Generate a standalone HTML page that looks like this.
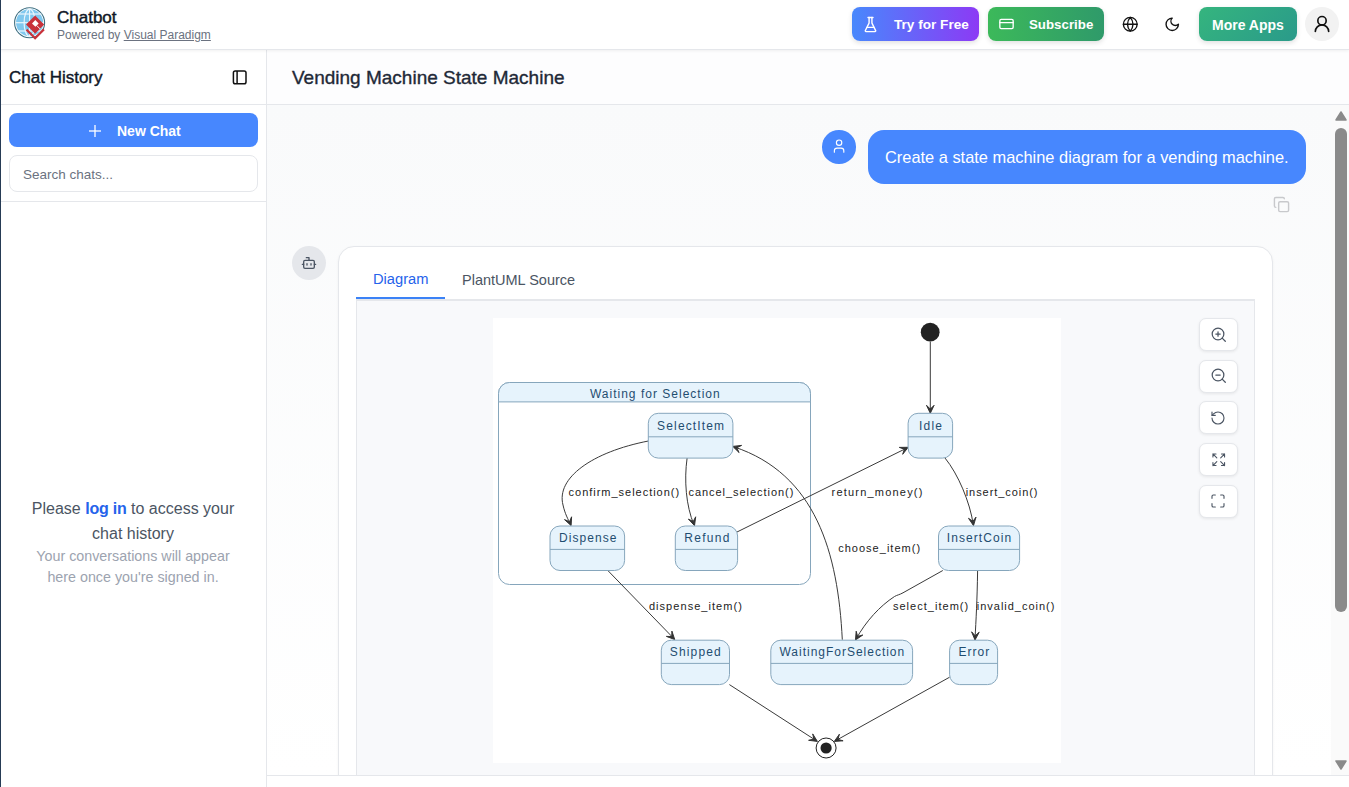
<!DOCTYPE html>
<html><head><meta charset="utf-8">
<style>
*{box-sizing:border-box;margin:0;padding:0}
html,body{width:1349px;height:787px;overflow:hidden;background:#fff;font-family:"Liberation Sans",sans-serif;color:#111827}
.abs{position:absolute}
#leftline{left:0;top:0;width:1px;height:787px;background:#263b55;z-index:10}
#header{left:0;top:0;width:1349px;height:50px;background:#fff;border-bottom:1px solid #e5e7eb;box-shadow:0 1px 3px rgba(0,0,0,.06);z-index:5}
.btn{position:absolute;top:7px;height:34px;border-radius:8px;color:#fff;font-weight:bold;font-size:14px;line-height:34px;box-shadow:0 2px 5px rgba(0,0,0,.12)}
#sidebar{left:0;top:50px;width:267px;height:737px;background:#fff;border-right:1px solid #e5e7eb}
#main{left:267px;top:50px;width:1082px;height:737px;background:#fff}
#titlebar{left:0;top:0;width:1082px;height:55px;background:#fdfdfe;border-bottom:1px solid #e5e7eb}
#content{left:0;top:55px;width:1082px;height:671px;background:linear-gradient(#f9fafb,#ffffff);border-bottom:1px solid #e5e7eb;overflow:hidden}
.zb{position:absolute;left:931.5px;width:39.5px;height:33px;border-radius:7px;background:#fff;border:1px solid #e5e7eb;box-shadow:0 1px 3px rgba(0,0,0,.08);display:flex;align-items:center;justify-content:center}
</style></head>
<body>
<div class="abs" id="header">
  <!-- logo -->
  <svg class="abs" style="left:13px;top:6px" width="34" height="34" viewBox="13 6 34 34">
    <circle cx="29.6" cy="22.7" r="15" fill="#fff" stroke="#3d6e80" stroke-width="1.1"/>
    <circle cx="29.6" cy="22.7" r="13.6" fill="#80c8ee"/>
    <g stroke="#e9f6fd" stroke-width="1.2" fill="none">
      <ellipse cx="29.6" cy="22.7" rx="5.5" ry="13.6"/>
      <line x1="29.6" y1="9.1" x2="29.6" y2="36.3"/>
      <line x1="16" y1="22.7" x2="43.2" y2="22.7"/>
      <line x1="17.8" y1="14" x2="41.4" y2="14"/>
      <line x1="17.8" y1="31" x2="41.4" y2="31"/>
    </g>
    <path d="M35.1,15.4 L44.2,24.6 L35.1,33.7 L26,24.6 Z" fill="#c8313a"/>
    <path d="M35.3,20.1 L38.7,23.5 L35.4,26.8 L32,23.4 Z" fill="#fff"/>
    <path d="M36.6,25.4 L40.3,29.1" stroke="#fff" stroke-width="0.9"/>
    <path d="M26.5,29.6 L35.1,38.2 L43.9,29.4" stroke="#c8313a" stroke-width="2.2" fill="none"/>
  </svg>
  <div class="abs" style="left:57px;top:8px;font-size:17px;color:#111827;line-height:20px;-webkit-text-stroke:0.45px #111827">Chatbot</div>
  <div class="abs" style="left:57px;top:28px;font-size:12px;color:#6b7280;line-height:14px">Powered by <span style="text-decoration:underline">Visual Paradigm</span></div>

  <div class="btn" style="left:852px;width:127px;background:linear-gradient(90deg,#4888fc,#8c3af5)">
    <svg class="abs" style="left:9.5px;top:8.5px" width="17" height="17" viewBox="0 0 24 24" fill="none" stroke="#fff" stroke-width="2" stroke-linecap="round" stroke-linejoin="round"><path d="M10 2v7.527a2 2 0 0 1-.211.896L4.72 20.55a1 1 0 0 0 .9 1.45h12.76a1 1 0 0 0 .9-1.45l-5.069-10.127A2 2 0 0 1 14 9.527V2"/><path d="M8.5 2h7M7 16h10"/></svg>
    <span class="abs" style="left:42px;top:1px;font-size:13.6px">Try for Free</span>
  </div>
  <div class="btn" style="left:988px;width:116px;background:linear-gradient(90deg,#3cb95a,#2f9a6a)">
    <svg class="abs" style="left:10px;top:9px" width="17" height="16" viewBox="0 0 24 24" fill="none" stroke="#fff" stroke-width="2" stroke-linecap="round" stroke-linejoin="round"><rect x="2" y="5" width="20" height="14" rx="2"/><line x1="2" y1="10" x2="22" y2="10"/></svg>
    <span class="abs" style="left:41px;top:1px;font-size:13.3px">Subscribe</span>
  </div>
  <svg class="abs" style="left:1122px;top:16px" width="16.5" height="16.5" viewBox="0 0 24 24" fill="none" stroke="#111" stroke-width="2" stroke-linecap="round" stroke-linejoin="round"><circle cx="12" cy="12" r="10"/><path d="M2 12h20"/><path d="M12 2a15.3 15.3 0 0 1 4 10 15.3 15.3 0 0 1-4 10 15.3 15.3 0 0 1-4-10 15.3 15.3 0 0 1 4-10z"/></svg>
  <svg class="abs" style="left:1164px;top:16px" width="16.5" height="16.5" viewBox="0 0 24 24" fill="none" stroke="#111" stroke-width="2" stroke-linecap="round" stroke-linejoin="round"><path d="M12 3a6 6 0 0 0 9 9 9 9 0 1 1-9-9Z"/></svg>
  <div class="btn" style="left:1199px;width:98px;background:linear-gradient(135deg,#35b57e,#2a9a8a)">
    <span class="abs" style="left:13px;top:1px">More Apps</span>
  </div>
  <div class="abs" style="left:1305px;top:7px;width:34px;height:34px;border-radius:50%;background:#f2f2f2">
    <svg class="abs" style="left:7px;top:7px" width="20" height="20" viewBox="0 0 24 24" fill="none" stroke="#111" stroke-width="2" stroke-linecap="round" stroke-linejoin="round"><circle cx="12" cy="8" r="5"/><path d="M20 21a8 8 0 0 0-16 0"/></svg>
  </div>
</div>

<div class="abs" id="sidebar">
  <div class="abs" style="left:0;top:0;width:266px;height:55px;border-bottom:1px solid #e5e7eb">
    <div class="abs" style="left:9px;top:18px;font-size:17px;color:#111827;line-height:20px;-webkit-text-stroke:0.4px #111827">Chat History</div>
    <svg class="abs" style="left:231px;top:19px" width="17" height="17" viewBox="0 0 17 17" fill="none" stroke="#111" stroke-width="1.5"><rect x="2.4" y="1.9" width="12.6" height="12.9" rx="1.8"/><line x1="6.1" y1="1.9" x2="6.1" y2="14.8"/></svg>
  </div>
  <div class="abs" style="left:9px;top:63px;width:249px;height:34px;border-radius:8px;background:#4787fe;color:#fff;font-size:14px;font-weight:bold;line-height:34px">
    <svg class="abs" style="left:80px;top:12px" width="12" height="12" viewBox="0 0 12 12" stroke="#fff" stroke-width="1.3"><line x1="6" y1="0" x2="6" y2="12"/><line x1="0" y1="6" x2="12" y2="6"/></svg>
    <span class="abs" style="left:108px;top:1px">New Chat</span>
  </div>
  <div class="abs" style="left:9px;top:105px;width:249px;height:37px;border-radius:8px;border:1px solid #e5e7eb;background:#fff;font-size:13.5px;color:#6b7280;line-height:38px;padding-left:13px">Search chats...</div>
  <div class="abs" style="left:0;top:151px;width:266px;height:1px;background:#e5e7eb"></div>
  <div class="abs" style="left:0;top:445.5px;width:266px;text-align:center;font-size:16px;line-height:25px;color:#4b5563">Please <span style="color:#2563eb;font-weight:bold;letter-spacing:-0.2px">log in</span> to access your<br>chat history</div>
  <div class="abs" style="left:0;top:495.5px;width:266px;text-align:center;font-size:14.3px;line-height:21px;color:#9ca3af">Your conversations will appear<br>here once you're signed in.</div>
</div>

<div class="abs" id="main">
  <div class="abs" id="titlebar">
    <div class="abs" style="left:25px;top:16px;font-size:19px;color:#1f2937;line-height:24px;-webkit-text-stroke:0.35px #1f2937">Vending Machine State Machine</div>
  </div>
  <div class="abs" id="content">
    <!-- user message (coords relative: page x-267, y-105) -->
    <div class="abs" style="left:555px;top:25px;width:33.5px;height:33.5px;border-radius:50%;background:#4787fe">
      <svg class="abs" style="left:8.7px;top:8px" width="16.2" height="16.2" viewBox="0 0 24 24" fill="none" stroke="#fff" stroke-width="1.7" stroke-linecap="round" stroke-linejoin="round"><path d="M19 21v-2a4 4 0 0 0-4-4H9a4 4 0 0 0-4 4v2"/><circle cx="12" cy="7" r="4"/></svg>
    </div>
    <div class="abs" style="left:601px;top:25px;width:438px;height:54px;border-radius:16px;background:#4787fe;color:#fff;font-size:16.4px;line-height:54px;padding-left:17px">Create a state machine diagram for a vending machine.</div>
    <svg class="abs" style="left:1006px;top:91px" width="17" height="17" viewBox="0 0 24 24" fill="none" stroke="#c8c9cc" stroke-width="2" stroke-linecap="round" stroke-linejoin="round"><rect x="8" y="8" width="14" height="14" rx="2"/><path d="M4 16c-1.1 0-2-.9-2-2V4c0-1.1.9-2 2-2h10c1.1 0 2 .9 2 2"/></svg>
    <!-- bot avatar -->
    <div class="abs" style="left:25px;top:141px;width:34px;height:34px;border-radius:50%;background:#e5e7eb">
      <svg class="abs" style="left:9px;top:9px" width="16" height="16" viewBox="0 0 24 24" fill="none" stroke="#4b5563" stroke-width="2" stroke-linecap="round" stroke-linejoin="round"><path d="M12 8V4H8"/><rect x="4" y="8" width="16" height="12" rx="2"/><path d="M2 14h2M20 14h2M15 13v2M9 13v2"/></svg>
    </div>
    <!-- card -->
    <div class="abs" style="left:71px;top:141px;width:935px;height:600px;border-radius:16px;background:#fff;border:1px solid #e5e7eb;box-shadow:0 1px 3px rgba(0,0,0,.05)">
      <div class="abs" style="left:17px;top:52px;width:899px;height:2px;background:#e5e7eb"></div>
      <div class="abs" style="left:17px;top:50px;width:89px;height:2px;background:#3b82f6"></div>
      <div class="abs" style="left:34px;top:23px;font-size:14.7px;color:#2563eb;line-height:18px">Diagram</div>
      <div class="abs" style="left:123px;top:24px;font-size:14.5px;color:#4b5563;line-height:18px">PlantUML Source</div>
      <div class="abs" style="left:17px;top:54px;width:899px;height:540px;background:#f8f9fb;border-left:1px solid #e5e7eb;border-right:1px solid #e5e7eb"></div>
    </div>
<!--DIAGRAM-->
<svg class="abs" style="left:226px;top:213px" width="568" height="445" viewBox="493 318 568 445" font-family="Liberation Sans, sans-serif">
<rect x="493" y="318" width="568" height="445" fill="#fff"/>
<rect x="498.5" y="382.5" width="312" height="202" rx="11" ry="11" fill="#fff" stroke="#86a6bc" stroke-width="1"/>
<path d="M498.5,401.9 V393.5 A11,11 0 0 1 509.5,382.5 H799.5 A11,11 0 0 1 810.5,393.5 V401.9 Z" fill="#e6f3fc" stroke="#86a6bc" stroke-width="1"/>
<text x="589.9" y="397.8" textLength="129.8" lengthAdjust="spacing" font-size="12" fill="#1f4d70">Waiting for Selection</text>
<circle cx="930.2" cy="332.2" r="9.4" fill="#222"/>
<path d="M930.3,341.6 L930.3,412.5" fill="none" stroke="#3a3a3a" stroke-width="1"/>
<polygon points="926.5,405.3 930.3,413.3 934.1,405.3 930.3,409.1" fill="#333" stroke="#333" stroke-width="1" stroke-linejoin="miter"/>
<path d="M945,458 C958,474 970,502 973.3,524.8" fill="none" stroke="#3a3a3a" stroke-width="1"/>
<polygon points="968.5,518.3 973.5,525.6 976.0,517.1 972.9,521.4" fill="#333" stroke="#333" stroke-width="1" stroke-linejoin="miter"/>
<path d="M648.4,441 C592,452 556,478 563,505 C565,514 568,519 570.5,524.5" fill="none" stroke="#3a3a3a" stroke-width="1"/>
<polygon points="564.5,519.6 571.1,525.6 571.6,516.8 569.5,521.7" fill="#333" stroke="#333" stroke-width="1" stroke-linejoin="miter"/>
<path d="M687.1,458.1 C684,480 686,506 694,524.8" fill="none" stroke="#3a3a3a" stroke-width="1"/>
<polygon points="688.4,519.1 694.5,525.6 695.7,516.8 693.2,521.6" fill="#333" stroke="#333" stroke-width="1" stroke-linejoin="miter"/>
<path d="M737,532 L907.5,447.7" fill="none" stroke="#3a3a3a" stroke-width="1"/>
<polygon points="902.7,454.3 908.2,447.3 899.3,447.4 904.4,449.2" fill="#333" stroke="#333" stroke-width="1" stroke-linejoin="miter"/>
<path d="M842.3,639.7 C838,553 816,474 733.8,446.8" fill="none" stroke="#3a3a3a" stroke-width="1"/>
<polygon points="741.6,445.4 732.8,446.4 739.1,452.6 736.8,447.8" fill="#333" stroke="#333" stroke-width="1" stroke-linejoin="miter"/>
<path d="M608,570.7 L674.2,638.9" fill="none" stroke="#3a3a3a" stroke-width="1"/>
<polygon points="666.4,636.4 674.7,639.5 671.9,631.1 671.8,636.5" fill="#333" stroke="#333" stroke-width="1" stroke-linejoin="miter"/>
<path d="M942.8,570.5 L903,592.8 C899.5,594.8 897,595 894.5,596.5 C880,606 866,621 856,639.2" fill="none" stroke="#3a3a3a" stroke-width="1"/>
<polygon points="856.2,631.2 855.5,640.0 862.8,635.0 857.6,636.4" fill="#333" stroke="#333" stroke-width="1" stroke-linejoin="miter"/>
<path d="M977.6,570.7 C977.2,600 976,620 975,639.2" fill="none" stroke="#3a3a3a" stroke-width="1"/>
<polygon points="971.6,631.8 975.0,640.0 979.2,632.2 975.2,635.8" fill="#333" stroke="#333" stroke-width="1" stroke-linejoin="miter"/>
<path d="M729.4,684.6 L816.8,741" fill="none" stroke="#3a3a3a" stroke-width="1"/>
<polygon points="808.6,740.3 817.4,741.4 812.7,733.9 813.9,739.1" fill="#333" stroke="#333" stroke-width="1" stroke-linejoin="miter"/>
<path d="M949.6,677.2 L835,741" fill="none" stroke="#3a3a3a" stroke-width="1"/>
<polygon points="839.4,734.2 834.3,741.4 843.1,740.8 838.0,739.4" fill="#333" stroke="#333" stroke-width="1" stroke-linejoin="miter"/>
<circle cx="826.1" cy="748" r="10" fill="#fff" stroke="#222" stroke-width="1"/>
<circle cx="826.1" cy="748" r="5.6" fill="#222"/>
<rect x="648.3" y="413.3" width="84.6" height="44.8" rx="10" ry="10" fill="#e6f3fc" stroke="#86a6bc" stroke-width="1"/>
<line x1="648.3" y1="436.8" x2="732.9" y2="436.8" stroke="#86a6bc" stroke-width="1"/>
<text x="657.1" y="430" textLength="67.0" lengthAdjust="spacing" font-size="12" fill="#1f4d70">SelectItem</text>
<rect x="908.1" y="413.3" width="44.5" height="44.8" rx="10" ry="10" fill="#e6f3fc" stroke="#86a6bc" stroke-width="1"/>
<line x1="908.1" y1="436.8" x2="952.6" y2="436.8" stroke="#86a6bc" stroke-width="1"/>
<text x="918.9" y="430.1" textLength="23.1" lengthAdjust="spacing" font-size="12" fill="#1f4d70">Idle</text>
<rect x="550" y="526" width="74.6" height="44.5" rx="10" ry="10" fill="#e6f3fc" stroke="#86a6bc" stroke-width="1"/>
<line x1="550" y1="549.4" x2="624.6" y2="549.4" stroke="#86a6bc" stroke-width="1"/>
<text x="559.1" y="541.9" textLength="57.3" lengthAdjust="spacing" font-size="12" fill="#1f4d70">Dispense</text>
<rect x="675.3" y="526" width="62.3" height="44.5" rx="10" ry="10" fill="#e6f3fc" stroke="#86a6bc" stroke-width="1"/>
<line x1="675.3" y1="549.4" x2="737.6" y2="549.4" stroke="#86a6bc" stroke-width="1"/>
<text x="684.3" y="541.9" textLength="45.2" lengthAdjust="spacing" font-size="12" fill="#1f4d70">Refund</text>
<rect x="938.5" y="526" width="81.1" height="44.5" rx="10" ry="10" fill="#e6f3fc" stroke="#86a6bc" stroke-width="1"/>
<line x1="938.5" y1="549.4" x2="1019.6" y2="549.4" stroke="#86a6bc" stroke-width="1"/>
<text x="946.8" y="541.9" textLength="64.4" lengthAdjust="spacing" font-size="12" fill="#1f4d70">InsertCoin</text>
<rect x="661.3" y="640.2" width="68.2" height="44.4" rx="10" ry="10" fill="#e6f3fc" stroke="#86a6bc" stroke-width="1"/>
<line x1="661.3" y1="663.4" x2="729.5" y2="663.4" stroke="#86a6bc" stroke-width="1"/>
<text x="669.8" y="655.9" textLength="51.0" lengthAdjust="spacing" font-size="12" fill="#1f4d70">Shipped</text>
<rect x="770.8" y="640.2" width="141.8" height="44.4" rx="10" ry="10" fill="#e6f3fc" stroke="#86a6bc" stroke-width="1"/>
<line x1="770.8" y1="663.4" x2="912.6" y2="663.4" stroke="#86a6bc" stroke-width="1"/>
<text x="779.5" y="655.9" textLength="124.7" lengthAdjust="spacing" font-size="12" fill="#1f4d70">WaitingForSelection</text>
<rect x="949.6" y="640.2" width="48.0" height="44.4" rx="10" ry="10" fill="#e6f3fc" stroke="#86a6bc" stroke-width="1"/>
<line x1="949.6" y1="663.4" x2="997.6" y2="663.4" stroke="#86a6bc" stroke-width="1"/>
<text x="958.6" y="655.9" textLength="30.7" lengthAdjust="spacing" font-size="12" fill="#1f4d70">Error</text>
<text x="568.6" y="496" textLength="110.5" lengthAdjust="spacing" font-size="11" fill="#222">confirm_selection()</text>
<text x="688.5" y="496" textLength="104.8" lengthAdjust="spacing" font-size="11" fill="#222">cancel_selection()</text>
<text x="831.6" y="496.2" textLength="90.8" lengthAdjust="spacing" font-size="11" fill="#222">return_money()</text>
<text x="965.7" y="496.1" textLength="71.8" lengthAdjust="spacing" font-size="11" fill="#222">insert_coin()</text>
<text x="838.2" y="551.9" textLength="81.9" lengthAdjust="spacing" font-size="11" fill="#222">choose_item()</text>
<text x="648.9" y="610.2" textLength="93.0" lengthAdjust="spacing" font-size="11" fill="#222">dispense_item()</text>
<text x="892.9" y="609.5" textLength="75.3" lengthAdjust="spacing" font-size="11" fill="#222">select_item()</text>
<text x="976.8" y="609.5" textLength="77.6" lengthAdjust="spacing" font-size="11" fill="#222">invalid_coin()</text>
</svg>
<!--/DIAGRAM-->
    <!-- zoom controls -->
    <div class="zb" style="top:213px"><svg width="17.5" height="17.5" viewBox="0 0 24 24" fill="none" stroke="#4b5563" stroke-width="1.7" stroke-linecap="round"><circle cx="11" cy="11" r="8"/><path d="M21 21l-4.3-4.3M11 8v6M8 11h6"/></svg></div>
    <div class="zb" style="top:254.5px"><svg width="17.5" height="17.5" viewBox="0 0 24 24" fill="none" stroke="#4b5563" stroke-width="1.7" stroke-linecap="round"><circle cx="11" cy="11" r="8"/><path d="M21 21l-4.3-4.3M8 11h6"/></svg></div>
    <div class="zb" style="top:296px"><svg width="16" height="16" viewBox="0 0 24 24" fill="none" stroke="#4b5563" stroke-width="1.7" stroke-linecap="round" stroke-linejoin="round"><path d="M3 12a9 9 0 1 0 9-9 9.75 9.75 0 0 0-6.74 2.74L3 8"/><path d="M3 3v5h5"/></svg></div>
    <div class="zb" style="top:338px"><svg width="15.5" height="15.5" viewBox="0 0 24 24" fill="none" stroke="#4b5563" stroke-width="1.7" stroke-linecap="round" stroke-linejoin="round"><path d="M21 21l-6-6M21 21v-4.8M21 21h-4.8M3 16.2V21M3 21h4.8M3 21l6-6M21 7.8V3M21 3h-4.8M21 3l-6 6M3 7.8V3M3 3h4.8M3 3l6 6"/></svg></div>
    <div class="zb" style="top:379.5px"><svg width="16" height="16" viewBox="0 0 24 24" fill="none" stroke="#4b5563" stroke-width="1.7" stroke-linecap="round" stroke-linejoin="round"><path d="M3 8V5a2 2 0 0 1 2-2h3M16 3h3a2 2 0 0 1 2 2v3M21 16v3a2 2 0 0 1-2 2h-3M8 21H5a2 2 0 0 1-2-2v-3"/></svg></div>
    <!-- scrollbar -->
    <div class="abs" style="left:1064px;top:0;width:18px;height:670px;background:#fafafa"></div>
    <svg class="abs" style="left:1068px;top:6px" width="12" height="10" viewBox="0 0 12 10"><path d="M6 1 L11 9 H1 Z" fill="#8a8a8a" stroke="#8a8a8a" stroke-width="1.5" stroke-linejoin="round"/></svg>
    <div class="abs" style="left:1068px;top:23px;width:12px;height:484px;border-radius:6px;background:#8a8a8a"></div>
    <svg class="abs" style="left:1068px;top:655px" width="12" height="10" viewBox="0 0 12 10"><path d="M1 1 H11 L6 9 Z" fill="#8a8a8a" stroke="#8a8a8a" stroke-width="1.5" stroke-linejoin="round"/></svg>
  </div>
</div>
<div class="abs" id="leftline"></div>
</body></html>
